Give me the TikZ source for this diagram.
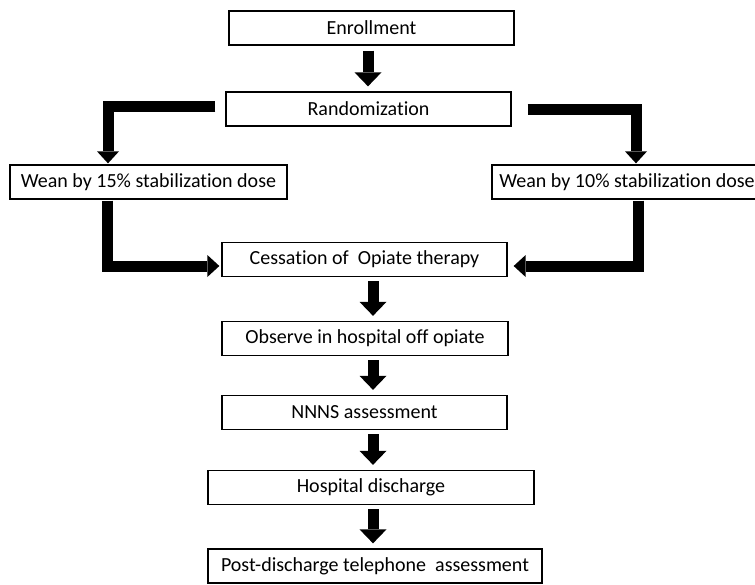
\documentclass[tikz,border=0pt]{standalone}
\usepackage{fontspec}
\setmainfont{Carlito}[Ligatures=NoCommon]
\usetikzlibrary{arrows.meta}
\tikzstyle{stepbox}=[draw,line width=1.3pt,minimum height=34pt,inner sep=0pt,font=\fontsize{20}{22}\selectfont]
\tikzstyle{flow} = [draw,line width=11pt,-{Triangle[width=27pt,length=14pt,line width=0pt]}]
\tikzstyle{elbow} = [draw,line width=11pt,-{Triangle[width=22pt,length=12pt,line width=0pt]}]

\begin{document}
\begin{tikzpicture}[x=1pt, y=-1pt]

    \useasboundingbox (0,0) rectangle (755,584);

     \foreach \x/\y/\w/\name/\txt in {371.5/28/285/enroll/Enrollment, 368.5/109/285/rand/Randomization,
            148.5/182/277/weanA/Wean by 15\% stabilization dose, 627/182/270/weanB/Wean by 10\% stabilization dose,
            364.5/259.5/285/cess/Cessation of~ Opiate therapy, 365/338.5/286/obs/Observe in hospital off opiate,
            364.5/412.5/285/nnns/NNNS assessment, 371/487.5/326/disch/Hospital discharge,
            375/566/334/post/Post-discharge telephone~ assessment}
        \node[stepbox, minimum width=\w pt] (\name) at (\x, \y) {\txt};

    \coordinate (spine) at (373,0);

    \path[flow] ([xshift=-3.5pt,yshift=-5pt]enroll.south) -- ([xshift=-3.5pt,yshift=5pt]enroll.south |- rand.north);

    \foreach \source/ \dest in {cess/obs, obs/nnns, nnns/disch, disch/post}
        \path[flow] ([yshift=-4pt]spine |- \source.south) -- ([yshift=5pt]spine |- \dest.north);

    % the two weaning arms
    \path[elbow] ([xshift=-10pt,yshift=3pt]rand.west) -| ([xshift=-40.5pt,yshift=1pt]weanA.north);
    \path[elbow] ([xshift=16pt]rand.east) -| ([xshift=9pt,yshift=1pt]weanB.north);
    \path[elbow] ([xshift=-41pt,yshift=-1pt]weanA.south) |- ([xshift=-2pt,yshift=-6.5pt]cess.west);
    \path[elbow] ([xshift=11pt,yshift=-1pt]weanB.south) |- ([xshift=6pt,yshift=-6.5pt]cess.east);

\end{tikzpicture}
\end{document}
